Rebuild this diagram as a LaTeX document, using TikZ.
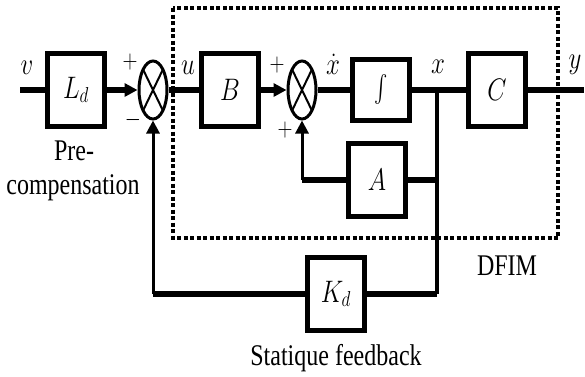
\documentclass[tikz,border=0pt]{standalone}
\usepackage{graphicx}
\usepackage{fontspec}
\setmainfont{Liberation Serif}
\usetikzlibrary{shapes.geometric,arrows.meta}
\tikzset{
  blk/.style={draw, line width=5pt, minimum width=57pt, minimum height=73pt, inner sep=0pt, font=\fontsize{24}{28}\selectfont},
  sumnode/.style={draw, ellipse, line width=3pt, minimum width=28pt, minimum height=58pt, inner sep=0pt,
    path picture={\draw[line width=2pt] (path picture bounding box.north east) -- (path picture bounding box.south west)
      (path picture bounding box.north west) -- (path picture bounding box.south east);}},
  lbl/.style={inner sep=0pt, font=\fontsize{24}{28}\selectfont},
  sgn/.style={inner sep=0pt, font=\fontsize{20}{24}\selectfont},
  sig/.style={line width=6pt},
  fb/.style={line width=3pt},
  arr/.style={-{Triangle[length=13pt,width=13pt]}},
}
\begin{document}
\begin{tikzpicture}[x=1pt, y=-1pt]
\useasboundingbox (0,0) rectangle (585,376);
            %DFIM frame
			\draw[line width=4.5pt, dash pattern=on 4pt off 2.5pt] (173,8) rectangle (558,238);

            %blocks
			\node[blk] (Ld) at (76,90) {\scalebox{1}[1.25]{$L_d$}};
			\node[sumnode] (s1) at (153,90) {};
			\node[blk] (B) at (230,90) {\scalebox{1}[1.25]{$B$}};
			\node[sumnode] (s2) at (302,90) {};
			\node[blk, minimum height=61pt] (intg) at (381,90) {\scalebox{2}[2.7]{$\int$}};
			\node[blk] (C) at (497,90) {\scalebox{1}[1.25]{$C$}};
			\node[blk] (A) at (377,180) {\scalebox{1}[1.25]{$A$}};
			\node[blk] (Kd) at (336,294) {\scalebox{1}[1.25]{$K_d$}};

			\coordinate (in) at (20,90);
			\coordinate (out) at (584,90);
			\coordinate (jx) at (437,90);
			\coordinate (jd) at (437,294);

            %signals
			\draw[sig] (in) -- (Ld);
			\draw[sig, arr] (Ld) -- (s1);
			\draw[sig] (s1) -- (B);
			\draw[sig, arr] (B) -- (s2);
			\draw[sig] (s2) -- (intg);
			\draw[sig] (intg) -- (C);
			\draw[sig] (C) -- (out);
			\draw[line width=4.5pt] (jx) -- (jd);

            %loops
			\draw[sig] (A) -- (A -| jx);
			\draw[sig] (A) -- (A -| s2) coordinate (ca);
			\draw[fb, arr] (ca) -- (s2);
			\draw[sig] (Kd) -- (jd);
			\draw[sig] (Kd) -- (Kd -| s1) coordinate (ck);
			\draw[fb, arr] (ck) -- (s1);

            %labels
			\node[lbl] (lv) at (27,68) {\scalebox{1}[1.25]{$v$}};
			\node[lbl] (lu) at (188,68) {\scalebox{1}[1.25]{$u$}};
			\node[lbl] (lxd) at (333,64) {\scalebox{1}[1.25]{$\dot{x}$}};
			\node[lbl] (lx) at (438,67) {\scalebox{1}[1.25]{$x$}};
			\node[lbl] (ly) at (575,65) {\scalebox{1}[1.25]{$y$}};

			\node[sgn] (p1) at (130,62) {\scalebox{1}[1.25]{$+$}};
			\node[sgn] (m1) at (133,120) {\scalebox{1}[1.25]{$-$}};
			\node[sgn] (p2) at (277,65) {\scalebox{1}[1.25]{$+$}};
			\node[sgn] (p3) at (285,130) {\scalebox{1}[1.25]{$+$}};

			\node[lbl] (pre1) at (74,151) {\scalebox{1}[1.25]{Pre-}};
			\node[lbl] (pre2) at (73,188) {\scalebox{1}[1.25]{compensation}};
			\node[lbl] (dfim) at (507,266) {\scalebox{1}[1.25]{DFIM}};
			\node[lbl] (stat) at (336,358) {\scalebox{1}[1.25]{Statique feedback}};
\end{tikzpicture}
\end{document}
